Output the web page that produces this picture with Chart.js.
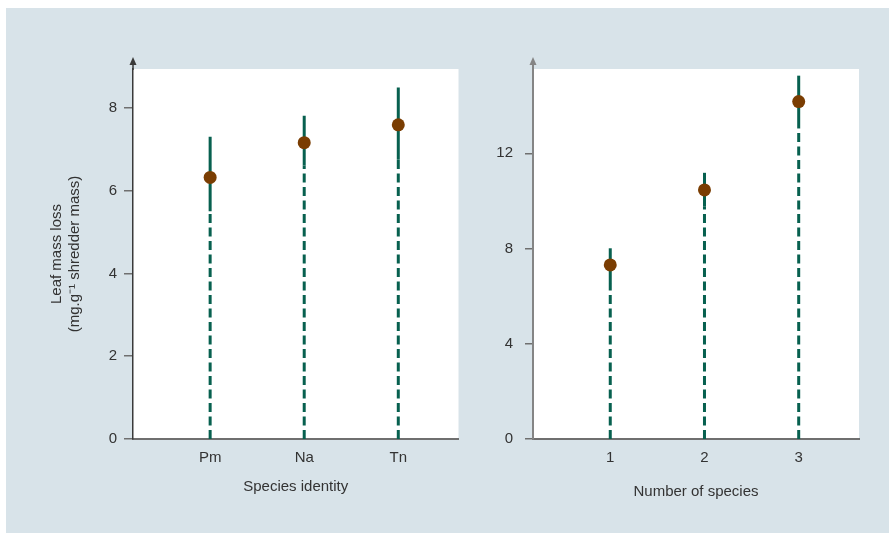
<!DOCTYPE html>
<html>
<head>
<meta charset="utf-8">
<script src="https://cdn.jsdelivr.net/npm/chart.js@4/dist/chart.umd.min.js"></script>
<style>
  html, body { margin: 0; padding: 0; background: #ffffff; }
  #wrap { position: relative; width: 889px; height: 533px; overflow: hidden; }
  #bg { position: absolute; left: 6px; top: 8px; width: 883px; height: 525px; background: #d8e3e9; }
  canvas { position: absolute; top: 0; }
  #c1 { left: 0; }
  #c2 { left: 460px; }
</style>
</head>
<body>
<div id="wrap">
  <div id="bg"></div>
  <canvas id="c1" width="465" height="533"></canvas>
  <canvas id="c2" width="429" height="533"></canvas>
</div>
<script>
// ---- Data ----
const leftCategories = ['Pm', 'Na', 'Tn'];
const leftMeans = [6.32, 7.16, 7.59];
const leftLower = [5.50, 6.61, 6.75];
const leftUpper = [7.30, 7.81, 8.49];
const leftYTicks = [0, 2, 4, 6, 8];

const rightCategories = ['1', '2', '3'];
const rightMeans = [7.31, 10.46, 14.17];
const rightLower = [6.55, 9.76, 13.05];
const rightUpper = [8.01, 11.18, 15.26];
const rightYTicks = [0, 4, 8, 12];

const leftXTitle = 'Species identity';
const rightXTitle = 'Number of species';
const leftYTitle = ['Leaf mass loss', '(mg.g\u207B\u00B9 shredder mass)'];

// ---- Styles ----
const LINE_COLOR = '#07604f';
const POINT_COLOR = '#7a3d02';
const TEXT_COLOR = '#333333';
const FONT = "'Liberation Sans', Arial, sans-serif";

const plotBg = {
  id: 'plotBg',
  beforeDraw(chart) {
    const { ctx, chartArea: a } = chart;
    ctx.save();
    ctx.fillStyle = '#ffffff';
    ctx.fillRect(a.left, a.top, a.right - a.left, a.bottom - a.top);
    ctx.restore();
  }
};

function arrowPlugin(color, width) {
  return {
    id: 'arrow',
    afterDraw(chart) {
      const { ctx, chartArea: a } = chart;
      const x = a.left;
      ctx.save();
      ctx.strokeStyle = color;
      ctx.lineWidth = width;
      ctx.beginPath();
      ctx.moveTo(x, a.top + 1);
      ctx.lineTo(x, a.top - 6);
      ctx.stroke();
      ctx.fillStyle = color;
      ctx.beginPath();
      ctx.moveTo(x, a.top - 12);
      ctx.lineTo(x - 3.5, a.top - 4);
      ctx.lineTo(x + 3.5, a.top - 4);
      ctx.closePath();
      ctx.fill();
      ctx.restore();
    }
  };
}

function buildDatasets(means, lower, upper) {
  const pts = {
    data: means.map((m, i) => ({ x: i + 1, y: m })),
    pointRadius: 6.5,
    pointBackgroundColor: POINT_COLOR,
    pointBorderWidth: 0,
    showLine: false
  };
  const solids = lower.map((lo, i) => ({
    data: [{ x: i + 1, y: lo }, { x: i + 1, y: upper[i] }],
    showLine: true,
    borderColor: LINE_COLOR,
    borderWidth: 3,
    pointRadius: 0,
    borderCapStyle: 'butt'
  }));
  const dashes = lower.map((lo, i) => ({
    data: [{ x: i + 1, y: 0 }, { x: i + 1, y: lo }],
    showLine: true,
    borderColor: LINE_COLOR,
    borderWidth: 3,
    borderDash: [9, 4.5],
    pointRadius: 0,
    borderCapStyle: 'butt'
  }));
  return [pts, ...solids, ...dashes];
}

function makeChart(canvasId, cats, means, lower, upper, yTicks, yMax, xTitle, yTitle, opts) {
  const yScale = {
    type: 'linear',
    min: 0,
    max: yMax,
    afterFit(s) { s.width = opts.yWidth; },
    afterBuildTicks(s) { s.ticks = yTicks.map(v => ({ value: v })); },
    ticks: {
      color: TEXT_COLOR,
      font: { family: FONT, size: 15 },
      padding: opts.tickPad,
      includeBounds: false
    },
    grid: {
      drawOnChartArea: false,
      drawTicks: true,
      tickLength: opts.tickLen,
      tickColor: '#6f6f6f',
      lineWidth: 1.5
    },
    border: { color: opts.yAxisColor, width: opts.yAxisWidth }
  };
  if (yTitle) {
    yScale.title = {
      display: true,
      text: yTitle,
      color: TEXT_COLOR,
      font: { family: FONT, size: 15, lineHeight: 1.15 },
      padding: { top: 48.5, bottom: 0 }
    };
  }
  return new Chart(document.getElementById(canvasId), {
    type: 'scatter',
    data: { datasets: buildDatasets(means, lower, upper) },
    options: {
      responsive: false,
      animation: false,
      events: [],
      layout: { padding: { top: 69, left: 0, right: opts.padRight, bottom: 0 } },
      plugins: { legend: { display: false }, tooltip: { enabled: false } },
      scales: {
        x: {
          type: 'linear',
          min: 0.18,
          max: 3.64,
          afterFit(s) { s.height = 94; },
          afterBuildTicks(s) { s.ticks = cats.map((c, i) => ({ value: i + 1 })); },
          ticks: {
            color: TEXT_COLOR,
            font: { family: FONT, size: 15 },
            padding: 10,
            callback: (v) => cats[v - 1]
          },
          grid: { drawOnChartArea: false, drawTicks: false },
          border: { color: '#6f6f6f', width: 2 },
          title: {
            display: true,
            text: xTitle,
            color: TEXT_COLOR,
            font: { family: FONT, size: 15 },
            padding: { top: 0, bottom: opts.xTitleBottom }
          }
        },
        y: yScale
      }
    },
    plugins: [plotBg, arrowPlugin(opts.yAxisColor, opts.yAxisWidth)]
  });
}

makeChart('c1', leftCategories, leftMeans, leftLower, leftUpper, leftYTicks, 8.94,
  leftXTitle, leftYTitle,
  { yWidth: 133, padRight: 0, tickPad: 7, tickLen: 9, yAxisColor: '#3a3a3a', yAxisWidth: 1.5, xTitleBottom: 37 });

makeChart('c2', rightCategories, rightMeans, rightLower, rightUpper, rightYTicks, 15.54,
  rightXTitle, null,
  { yWidth: 73, padRight: 30, tickPad: 12, tickLen: 8, yAxisColor: '#858585', yAxisWidth: 2, xTitleBottom: 32 });
</script>
</body>
</html>
